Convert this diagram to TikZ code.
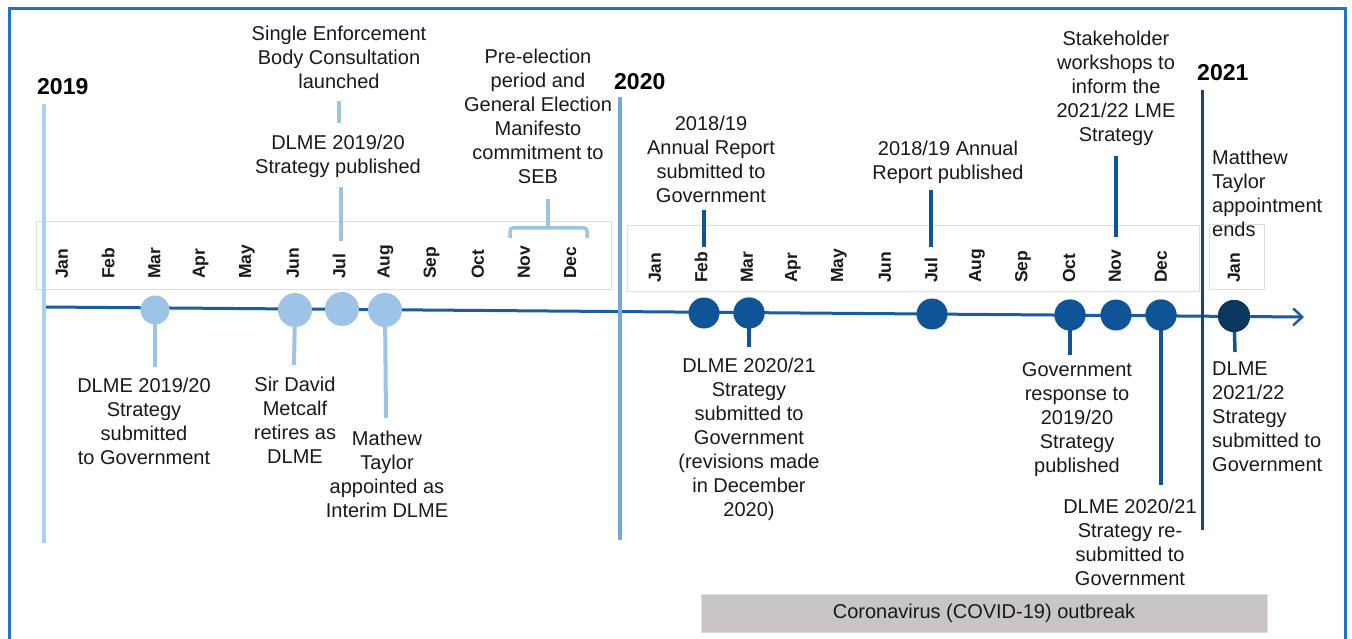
\documentclass[tikz,border=0pt]{standalone}
\usepackage{fontspec}
\setmainfont{Liberation Sans}
\usetikzlibrary{arrows.meta}
\definecolor{frameblue}{RGB}{36,114,196}
\definecolor{lightblue}{RGB}{157,195,230}
\definecolor{yr19}{RGB}{170,210,240}
\definecolor{yr20}{RGB}{115,168,222}
\definecolor{yr21}{RGB}{24,68,118}
\definecolor{darkblue}{RGB}{14,84,150}
\definecolor{navy}{RGB}{12,56,96}
\definecolor{lineblue}{RGB}{26,92,160}
\definecolor{txt}{RGB}{25,25,25}
\definecolor{covid}{RGB}{201,197,197}
\definecolor{hdr}{RGB}{222,222,222}

\begin{document}
\begin{tikzpicture}[x=1pt,y=-1pt,
  lbl/.style={font=\fontsize{20}{24}\selectfont, text=txt, align=center, inner sep=0pt},
  lbll/.style={lbl, align=left, anchor=west},
  yearlbl/.style={font=\fontsize{23}{26}\selectfont\bfseries, anchor=west, inner sep=0pt, text=black},
  month/.style={font=\fontsize{17.5}{20}\selectfont\bfseries, rotate=90, anchor=west, inner sep=0pt, text=txt},
  dotlight/.style={circle, fill=lightblue, inner sep=0pt},
  dotdark/.style={circle, fill=darkblue, inner sep=0pt, minimum size=31pt},
  stemlight/.style={lightblue, line width=4pt},
  stemdark/.style={darkblue, line width=3.5pt},
  hdrbox/.style={draw=hdr, line width=1pt}
]
\useasboundingbox (0,0) rectangle (1352,639);

% outer frame (open at the bottom edge)
\draw[frameblue, line width=3pt] (9,650) -- (9,8.5) -- (1345,8.5) -- (1345,650);

% month header boxes
\draw[hdrbox] (36,222) rectangle (611,289);
\draw[hdrbox] (627,226) rectangle (1199,291);
\draw[hdrbox] (1209,225) rectangle (1264,289);

% month labels
\foreach \m [count=\i from 0] in {Jan,Feb,Mar,Apr,May,Jun,Jul,Aug,Sep,Oct,Nov,Dec}{
  \node[month] (m19-\i) at ({62+46.2*\i},279) {\m};
  \node[month] (m20-\i) at ({655+46*\i},283) {\m};
}
\node[month] (m21-0) at (1234,283) {Jan};

% main timeline
\coordinate (tstart) at (45,307);
\coordinate (tend) at (1304,317);
\draw[lineblue, line width=3pt, -{Straight Barb[length=9pt,width=17pt,line width=2.5pt]}] (tstart) -- (tend);

% year dividers
\coordinate (y19a) at (44,104);  \coordinate (y19b) at (44,543);
\coordinate (y20a) at (620,97);  \coordinate (y20b) at (620,540);
\coordinate (y21a) at (1202,90); \coordinate (y21b) at (1202,530);
\draw[yr19, line width=3.5pt] (y19a) -- (y19b);
\draw[yr20, line width=3.5pt] (y20a) -- (y20b);
\draw[yr21, line width=3pt] (y21a) -- (y21b);
\node[yearlbl] (y2019) at (37,87) {2019};
\node[yearlbl] (y2020) at (614,82) {2020};
\node[yearlbl] (y2021) at (1197,73) {2021};

% stem end points below the line
\coordinate (s19mar) at (155,367);
\coordinate (s19jun) at (294,365);
\coordinate (s19aug) at (386,418);
\coordinate (s20mar) at (749,347);
\coordinate (s20oct) at (1070,355);
\coordinate (s20dec) at (1161,485);
\coordinate (s21jan) at (1235,352);

% event dots
\node[dotlight, minimum size=29pt] (c19mar) at (155,310) {};
\node[dotlight, minimum size=34pt] (c19jun) at (295,310) {};
\node[dotlight, minimum size=34pt] (c19jul) at (342,309) {};
\node[dotlight, minimum size=34pt] (c19aug) at (385,310) {};
\node[dotdark] (c20feb) at (704,313) {};
\node[dotdark] (c20mar) at (749,313) {};
\node[dotdark] (c20jul) at (932,314) {};
\node[dotdark] (c20oct) at (1070,315) {};
\node[dotdark] (c20nov) at (1116,315) {};
\node[dotdark] (c20dec) at (1161,315) {};
\node[circle, fill=navy, inner sep=0pt, minimum size=32pt] (c21jan) at (1234,316) {};

\draw[stemlight] (c19mar.center) -- (s19mar);
\draw[stemlight] (c19jun.center) -- (s19jun);
\draw[stemlight] (c19aug.center) -- (s19aug);
\draw[stemdark] (c20mar.center) -- (s20mar);
\draw[stemdark] (c20oct.center) -- (s20oct);
\draw[stemdark] (c20dec.center) -- (s20dec);
\draw[stemdark] (c21jan.center) -- (s21jan);
% redraw dots over the stem tops
\foreach \c in {c19mar,c19jun,c19aug}{\fill[lightblue] (\c) circle[radius=14pt];}
\foreach \c in {c20mar,c20oct,c20dec}{\fill[darkblue] (\c) circle[radius=15.5pt];}
\fill[navy] (c21jan) circle[radius=16pt];

% stems above the line
\coordinate (a1) at (339,101); \coordinate (a1b) at (339,123);
\coordinate (a2) at (341,187); \coordinate (a2b) at (341,241);
\coordinate (a3) at (704,210); \coordinate (a3b) at (704,247);
\coordinate (a4) at (931,190); \coordinate (a4b) at (931,247);
\coordinate (a5) at (1116,156); \coordinate (a5b) at (1116,237);
\draw[stemlight] (a1) -- (a1b);
\draw[stemlight] (a2) -- (a2b);
\draw[stemdark] (a3) -- (a3b);
\draw[stemdark] (a4) -- (a4b);
\draw[stemdark] (a5) -- (a5b);

% bracket over Nov-Dec 2019
\coordinate (br) at (548,199); \coordinate (brm) at (548,228);
\draw[lightblue, line width=3.5pt] (br) -- (brm);
\draw[lightblue, line width=3.5pt, rounded corners=3pt] (510,238) -- (510,228) -- (587,228) -- (587,238);

% labels above the line
\node[lbl] (seb) at (339,57) {Single Enforcement\\Body Consultation\\launched};
\node[lbl] (pub19) at (338,156) {DLME 2019/20\\Strategy published};
\node[lbl] (elect) at (538,116) {Pre-election\\period and\\General Election\\Manifesto\\commitment to\\SEB};
\node[lbl] (ar1) at (711,159.5) {2018/19\\Annual Report\\submitted to\\Government};
\node[lbl] (ar2) at (948,162) {2018/19 Annual\\Report published};
\node[lbl] (stake) at (1116,88.5) {Stakeholder\\workshops to\\inform the\\2021/22 LME\\Strategy};
\node[lbll] (mtend) at (1212,193) {Matthew\\Taylor\\appointment\\ends};

% labels below the line
\node[lbl] (sub19) at (144,421.5) {DLME 2019/20\\Strategy\\submitted\\to Government};
\node[lbl] (sdm) at (295,420.5) {Sir David\\Metcalf\\retires as\\DLME};
\node[lbl] (mt) at (387,474) {Mathew\\Taylor\\appointed as\\Interim DLME};
\node[lbl] (sub20) at (749,439) {DLME 2020/21\\Strategy\\submitted to\\Government\\(revisions made\\in December\\2020)};
\node[lbl] (resp) at (1077,419.5) {Government\\response to\\2019/20\\Strategy\\published};
\node[lbl] (resub) at (1130,542.5) {DLME 2020/21\\Strategy re-\\submitted to\\Government};
\node[lbll] (sub21) at (1212,416.5) {DLME\\2021/22\\Strategy\\submitted to\\Government};

% COVID-19 band
\node[fill=covid, draw=hdr, line width=1pt, minimum width=566pt, minimum height=38pt, inner sep=0pt,
      font=\fontsize{20}{24}\selectfont, text=txt] (covid) at (984,613) {Coronavirus (COVID-19) outbreak};
\end{tikzpicture}
\end{document}
